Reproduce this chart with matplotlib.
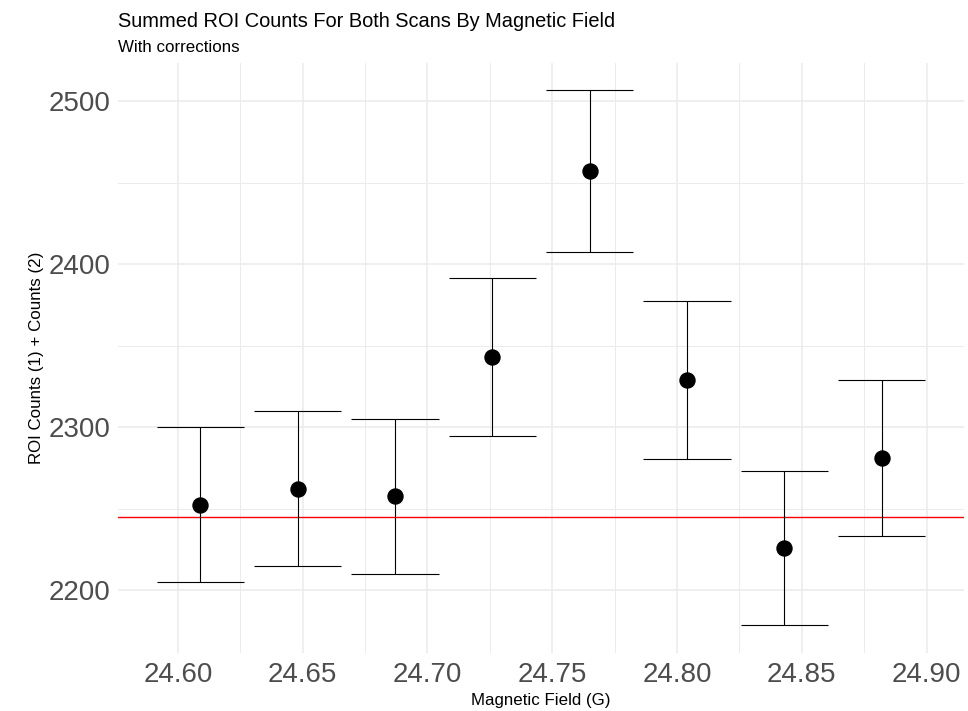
import matplotlib
matplotlib.use("Agg")
import matplotlib.pyplot as plt
from matplotlib.ticker import MultipleLocator

plt.rcParams['font.family'] = ['Liberation Sans', 'DejaVu Sans']

# Data
field = [24.609, 24.648, 24.687, 24.726, 24.765, 24.804, 24.843, 24.882]
counts = [2252.5, 2262.2, 2257.7, 2343.0, 2457.3, 2328.9, 2226.0, 2281.1]
errors = [47.5, 47.6, 47.5, 48.4, 49.6, 48.3, 47.2, 47.8]
reference_level = 2245.0
cap_half_width = 0.0175
x_ticks = [24.60, 24.65, 24.70, 24.75, 24.80, 24.85, 24.90]
y_ticks = [2200, 2300, 2400, 2500]

W, H = 968, 711
fig = plt.figure(figsize=(W / 100, H / 100), dpi=100)
ax = fig.add_axes([118 / W, 1 - 653 / H, (964 - 118) / W, (653 - 63) / H])

grid_col = '#EBEBEB'
ax.set_xlim(24.576, 24.915)
ax.set_ylim(2161.5, 2523.4)
ax.set_xticks(x_ticks)
ax.set_xticklabels([f"{v:.2f}" for v in x_ticks])
ax.set_yticks(y_ticks)
ax.set_yticklabels([str(v) for v in y_ticks])
ax.xaxis.set_minor_locator(MultipleLocator(0.025))
ax.yaxis.set_minor_locator(MultipleLocator(50))
ax.grid(which='major', color=grid_col, linewidth=1.1)
ax.grid(which='minor', color=grid_col, linewidth=0.7)
ax.set_axisbelow(True)
for s in ax.spines.values():
    s.set_visible(False)
ax.tick_params(which='both', length=0)
ax.tick_params(axis='x', labelsize=20, labelcolor='#4D4D4D', pad=6.5)
ax.tick_params(axis='y', labelsize=20, labelcolor='#4D4D4D', pad=5.5)

ax.axhline(reference_level, color='#FF0000', linewidth=1.0, zorder=2)

lows = [c - e for c, e in zip(counts, errors)]
highs = [c + e for c, e in zip(counts, errors)]
ax.vlines(field, lows, highs, color='black', linewidth=0.8, zorder=3)
xl = [f - cap_half_width for f in field]
xr = [f + cap_half_width for f in field]
ax.hlines(lows, xl, xr, color='black', linewidth=0.8, zorder=3)
ax.hlines(highs, xl, xr, color='black', linewidth=0.8, zorder=3)
ax.plot(field, counts, 'o', color='black', markersize=10.8, zorder=4)

fig.text(118 / W, 1 - 27 / H, "Summed ROI Counts For Both Scans By Magnetic Field",
         fontsize=14.4, color='black', ha='left', va='baseline')
fig.text(118 / W, 1 - 52 / H, "With corrections",
         fontsize=12.2, color='black', ha='left', va='baseline')
fig.text(541 / W, 1 - 705 / H, "Magnetic Field (G)",
         fontsize=12.2, color='black', ha='center', va='baseline')
fig.text(37 / W, 1 - 358 / H, "ROI Counts (1) + Counts (2)",
         fontsize=12.2, color='black', ha='center', va='center', rotation=90)

fig.savefig("out.png", dpi=100, facecolor='white')
